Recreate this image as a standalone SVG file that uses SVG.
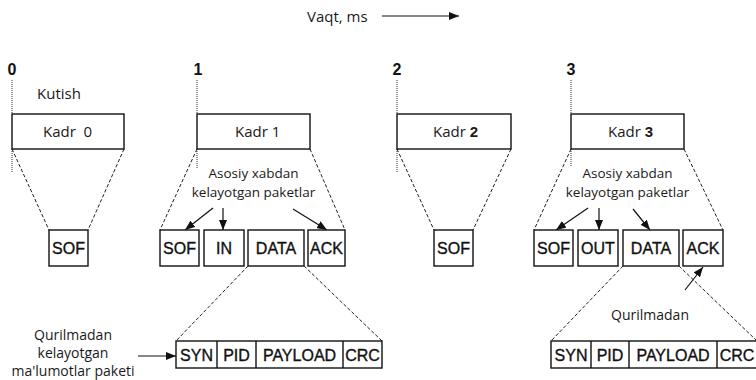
<svg xmlns="http://www.w3.org/2000/svg" width="756" height="380" viewBox="0 0 756 380">
<defs>
<marker id="ah" markerUnits="userSpaceOnUse" markerWidth="10" markerHeight="8" refX="10" refY="4" orient="auto">
<path d="M0,0 L10,4 L0,8 z" fill="#111"/>
</marker>
<style>
.box{fill:#fff;stroke:#111;stroke-width:1.4}
.sep{stroke:#111;stroke-width:1.4}
.dash{fill:none;stroke:#222;stroke-width:1;stroke-dasharray:3.5 2}
.dot{fill:none;stroke:#333;stroke-width:1;stroke-dasharray:1 1}
.arr{fill:none;stroke:#111;stroke-width:1.2;marker-end:url(#ah)}
.t{font-family:"Open Sans","Liberation Sans",sans-serif;font-size:14px;fill:#1a1a1a}
.ts{font-family:"Open Sans","Liberation Sans",sans-serif;font-size:13.5px;fill:#1a1a1a;text-anchor:middle}
.tk{font-family:"Open Sans","Liberation Sans",sans-serif;font-size:15px;fill:#1a1a1a}
.p{font-family:"Liberation Sans",Arial,sans-serif;font-size:16px;fill:#111;stroke:#111;stroke-width:0.35;text-anchor:middle}
.n{font-family:"Liberation Sans",Arial,sans-serif;font-size:16px;font-weight:bold;fill:#111;text-anchor:middle}
.b{font-family:"Liberation Sans",Arial,sans-serif;font-weight:bold}
</style>
</defs>
<rect width="756" height="380" fill="#fff"/>

<g id="time-axis">
<text class="tk" x="307" y="22">Vaqt, ms</text>
<line x1="382" y1="16" x2="459" y2="16" class="arr"/>
</g>

<g id="ticks">
<text class="n" x="12" y="75">0</text>
<text class="n" x="198" y="75">1</text>
<text class="n" x="397" y="75">2</text>
<text class="n" x="571" y="75">3</text>
<path class="dot" d="M12,80 V114 M12,149 V172 M197,80 V114 M197,149 V168 M397,80 V114 M397,149 V172 M571,80 V114 M571,149 V166"/>
</g>

<g id="connectors">
<path class="dash" d="M12,149 L49,230 M124,149 L88,230"/>
<path class="dash" d="M197,149 L160,230 M310,149 L345,230"/>
<path class="dash" d="M397,149 L434,230 M511,149 L473,230"/>
<path class="dash" d="M571,149 L534,230 M684,149 L723,230"/>
<path class="dash" d="M248,266 L176,341 M304,266 L382,341"/>
<path class="dash" d="M623,266 L551,341 M679,266 L757,341"/>
<line class="arr" x1="213" y1="208" x2="185" y2="230"/>
<line class="arr" x1="223" y1="208" x2="223" y2="230"/>
<line class="arr" x1="293" y1="209" x2="327" y2="230"/>
<line class="arr" x1="588" y1="208" x2="556" y2="230"/>
<line class="arr" x1="599" y1="208" x2="599" y2="230"/>
<line class="arr" x1="633" y1="209" x2="650" y2="230"/>
<line class="arr" x1="685" y1="290" x2="703" y2="267"/>
<line class="arr" x1="138" y1="356" x2="176" y2="356"/>
</g>

<g id="kadr0">
<text class="tk" x="37" y="99">Kutish</text>
<rect class="box" x="12" y="114" width="112" height="35"/>
<text class="tk" x="43" y="137" xml:space="preserve">Kadr  0</text>
</g>
<g id="kadr0-sof">
<rect class="box" x="49" y="230" width="39" height="36"/>
<text class="p" x="68.5" y="254">SOF</text>
</g>

<g id="kadr1">
<rect class="box" x="197" y="114" width="113" height="35"/>
<text class="tk" x="235" y="137">Kadr 1</text>
</g>
<g id="kadr1-label">
<text class="ts" x="253.5" y="178">Asosiy xabdan</text>
<text class="ts" x="253.5" y="197">kelayotgan paketlar</text>
</g>
<g id="kadr1-sof"><rect class="box" x="160" y="230" width="39" height="36"/><text class="p" x="179.5" y="254">SOF</text></g>
<g id="kadr1-in"><rect class="box" x="204" y="230" width="40" height="36"/><text class="p" x="224" y="254">IN</text></g>
<g id="kadr1-data"><rect class="box" x="248" y="230" width="56" height="36"/><text class="p" x="276" y="254">DATA</text></g>
<g id="kadr1-ack"><rect class="box" x="308" y="230" width="37" height="36"/><text class="p" x="326.5" y="254">ACK</text></g>

<g id="kadr1-packet">
<rect class="box" x="176" y="341" width="206" height="27"/>
<path class="sep" d="M217,341 V368 M256,341 V368 M343,341 V368"/>
<text class="p" x="196.5" y="361">SYN</text>
<text class="p" x="236.5" y="361">PID</text>
<text class="p" x="299.5" y="361">PAYLOAD</text>
<text class="p" x="362.5" y="361">CRC</text>
</g>
<g id="device-label">
<text class="t" x="73" y="340" text-anchor="middle">Qurilmadan</text>
<text class="t" x="73" y="358" text-anchor="middle">kelayotgan</text>
<text class="t" x="73" y="376" text-anchor="middle">ma'lumotlar paketi</text>
</g>

<g id="kadr2">
<rect class="box" x="397" y="114" width="114" height="35"/>
<text class="tk" x="433" y="137">Kadr <tspan class="b">2</tspan></text>
</g>
<g id="kadr2-sof"><rect class="box" x="434" y="230" width="39" height="36"/><text class="p" x="453.5" y="254">SOF</text></g>

<g id="kadr3">
<rect class="box" x="571" y="114" width="113" height="35"/>
<text class="tk" x="608" y="137">Kadr <tspan class="b">3</tspan></text>
</g>
<g id="kadr3-label">
<text class="ts" x="627.5" y="178">Asosiy xabdan</text>
<text class="ts" x="627.5" y="197">kelayotgan paketlar</text>
</g>
<g id="kadr3-sof"><rect class="box" x="534" y="230" width="39" height="36"/><text class="p" x="553.5" y="254">SOF</text></g>
<g id="kadr3-out"><rect class="box" x="578" y="230" width="40" height="36"/><text class="p" x="598" y="254">OUT</text></g>
<g id="kadr3-data"><rect class="box" x="623" y="230" width="56" height="36"/><text class="p" x="651" y="254">DATA</text></g>
<g id="kadr3-ack"><rect class="box" x="683" y="230" width="40" height="36"/><text class="p" x="703" y="254">ACK</text></g>
<g id="kadr3-device-label">
<text class="t" x="650" y="320" text-anchor="middle">Qurilmadan</text>
</g>
<g id="kadr3-packet">
<rect class="box" x="551" y="341" width="206" height="27"/>
<path class="sep" d="M591,341 V368 M629,341 V368 M717,341 V368"/>
<text class="p" x="571" y="361">SYN</text>
<text class="p" x="610" y="361">PID</text>
<text class="p" x="673" y="361">PAYLOAD</text>
<text class="p" x="737" y="361">CRC</text>
</g>
</svg>
